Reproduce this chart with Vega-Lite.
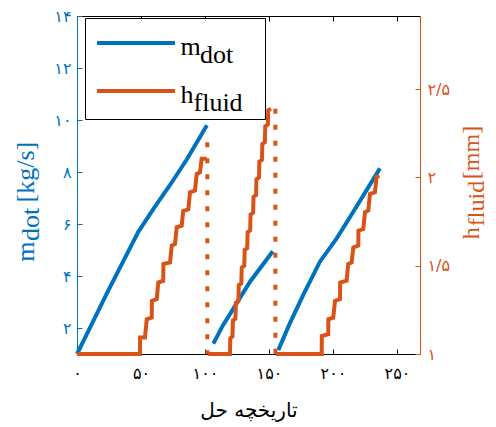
{
  "$schema": "https://vega.github.io/schema/vega-lite/v6.json",
  "width": 343,
  "height": 338,
  "autosize": {"type": "none"},
  "padding": {"left": 77, "top": 16, "right": 76, "bottom": 73},
  "background": "white",
  "config": {"view": {"stroke": null}, "axis": {"grid": false}},
  "datasets": {
    "mdot": [
      {"seg": 1, "x": 0, "v": 1.0}, {"seg": 1, "x": 12, "v": 2.2}, {"seg": 1, "x": 24, "v": 3.4}, {"seg": 1, "x": 36, "v": 4.55}, {"seg": 1, "x": 47.9, "v": 5.7}, {"seg": 1, "x": 60, "v": 6.6}, {"seg": 1, "x": 72.7, "v": 7.5}, {"seg": 1, "x": 86, "v": 8.5}, {"seg": 1, "x": 101.5, "v": 9.8},
      {"seg": 2, "x": 106.5, "v": 1.4}, {"seg": 2, "x": 114, "v": 2.1}, {"seg": 2, "x": 123.5, "v": 2.85}, {"seg": 2, "x": 135.2, "v": 3.78}, {"seg": 2, "x": 153, "v": 4.95},
      {"seg": 3, "x": 157.3, "v": 1.15}, {"seg": 3, "x": 166, "v": 2.15}, {"seg": 3, "x": 176.8, "v": 3.27}, {"seg": 3, "x": 189.8, "v": 4.55}, {"seg": 3, "x": 202.9, "v": 5.45}, {"seg": 3, "x": 215.9, "v": 6.47}, {"seg": 3, "x": 236.7, "v": 8.14}
    ],
    "hf": [
      {"seg": 1, "x": 0, "v": 1.0}, {"seg": 1, "x": 49.2, "v": 1.0}, {"seg": 1, "x": 49.3, "v": 1.093}, {"seg": 1, "x": 53.1, "v": 1.093}, {"seg": 1, "x": 54.5, "v": 1.197}, {"seg": 1, "x": 58.4, "v": 1.206}, {"seg": 1, "x": 58.5, "v": 1.301}, {"seg": 1, "x": 62.3, "v": 1.311}, {"seg": 1, "x": 63.5, "v": 1.405}, {"seg": 1, "x": 67.4, "v": 1.415}, {"seg": 1, "x": 67.5, "v": 1.51}, {"seg": 1, "x": 72.7, "v": 1.519}, {"seg": 1, "x": 74, "v": 1.614}, {"seg": 1, "x": 76.6, "v": 1.623}, {"seg": 1, "x": 77.9, "v": 1.718}, {"seg": 1, "x": 81.8, "v": 1.727}, {"seg": 1, "x": 83, "v": 1.81}, {"seg": 1, "x": 87, "v": 1.82}, {"seg": 1, "x": 88.3, "v": 1.916}, {"seg": 1, "x": 92.2, "v": 1.926}, {"seg": 1, "x": 93.5, "v": 2.02}, {"seg": 1, "x": 96.1, "v": 2.03}, {"seg": 1, "x": 97.4, "v": 2.106}, {"seg": 1, "x": 101.3, "v": 2.106},
      {"seg": 2, "x": 102.6, "v": 1.0}, {"seg": 2, "x": 119.5, "v": 1.0}, {"seg": 2, "x": 119.8, "v": 1.09}, {"seg": 2, "x": 121.5, "v": 1.1}, {"seg": 2, "x": 121.8, "v": 1.19}, {"seg": 2, "x": 123.8, "v": 1.2}, {"seg": 2, "x": 124.1, "v": 1.29}, {"seg": 2, "x": 126.1, "v": 1.3}, {"seg": 2, "x": 126.4, "v": 1.39}, {"seg": 2, "x": 128.4, "v": 1.4}, {"seg": 2, "x": 128.7, "v": 1.49}, {"seg": 2, "x": 130.7, "v": 1.5}, {"seg": 2, "x": 131.0, "v": 1.59}, {"seg": 2, "x": 133.0, "v": 1.6}, {"seg": 2, "x": 133.3, "v": 1.69}, {"seg": 2, "x": 135.3, "v": 1.7}, {"seg": 2, "x": 135.6, "v": 1.79}, {"seg": 2, "x": 137.6, "v": 1.8}, {"seg": 2, "x": 137.9, "v": 1.89}, {"seg": 2, "x": 139.9, "v": 1.9}, {"seg": 2, "x": 140.2, "v": 1.99}, {"seg": 2, "x": 142.2, "v": 2.0}, {"seg": 2, "x": 142.5, "v": 2.09}, {"seg": 2, "x": 144.5, "v": 2.1}, {"seg": 2, "x": 144.8, "v": 2.19}, {"seg": 2, "x": 146.8, "v": 2.2}, {"seg": 2, "x": 147.1, "v": 2.29}, {"seg": 2, "x": 149.1, "v": 2.3}, {"seg": 2, "x": 149.4, "v": 2.38}, {"seg": 2, "x": 151.5, "v": 2.39},
      {"seg": 3, "x": 155.5, "v": 1.0}, {"seg": 3, "x": 191.2, "v": 1.0}, {"seg": 3, "x": 191.3, "v": 1.102}, {"seg": 3, "x": 196.3, "v": 1.112}, {"seg": 3, "x": 196.4, "v": 1.197}, {"seg": 3, "x": 200.2, "v": 1.206}, {"seg": 3, "x": 201.6, "v": 1.301}, {"seg": 3, "x": 205.5, "v": 1.311}, {"seg": 3, "x": 205.6, "v": 1.405}, {"seg": 3, "x": 210.7, "v": 1.415}, {"seg": 3, "x": 211.9, "v": 1.51}, {"seg": 3, "x": 214.6, "v": 1.519}, {"seg": 3, "x": 215.9, "v": 1.604}, {"seg": 3, "x": 219.8, "v": 1.614}, {"seg": 3, "x": 219.9, "v": 1.699}, {"seg": 3, "x": 223.7, "v": 1.708}, {"seg": 3, "x": 225, "v": 1.803}, {"seg": 3, "x": 227.6, "v": 1.813}, {"seg": 3, "x": 228.9, "v": 1.907}, {"seg": 3, "x": 232.8, "v": 1.916}, {"seg": 3, "x": 234.1, "v": 2.002}, {"seg": 3, "x": 236.2, "v": 2.01}
    ],
    "dots": [
      {"x": 101.8, "top": 2.2, "bottom": 1.0},
      {"x": 155, "top": 2.39, "bottom": 1.0}
    ]
  },
  "layer": [
    {
      "data": {"name": "mdot"},
      "mark": {"type": "line", "strokeWidth": 4},
      "encoding": {
        "x": {"field": "x", "type": "quantitative", "scale": {"domain": [0, 268], "nice": false, "zero": false},
          "axis": {"orient": "bottom", "values": [0, 50, 100, 150, 200, 250], "labelExpr": "datum.value == 0 ? '۰' : datum.value == 50 ? '۵۰' : datum.value == 100 ? '۱۰۰' : datum.value == 150 ? '۱۵۰' : datum.value == 200 ? '۲۰۰' : '۲۵۰'", "labelFont": "DejaVu Sans", "labelFontSize": 16, "labelColor": "black", "labelFlush": false, "domainColor": "black", "tickColor": "black", "tickSize": -5, "labelPadding": 16, "title": "تاریخچه حل", "titleFont": "DejaVu Sans", "titleFontSize": 20, "titleFontWeight": "normal", "titleColor": "black", "titlePadding": 19}},
        "y": {"field": "v", "type": "quantitative", "scale": {"domain": [1, 14], "nice": false, "zero": false},
          "axis": {"orient": "left", "values": [2, 4, 6, 8, 10, 12, 14], "labelExpr": "datum.value == 2 ? '۲' : datum.value == 4 ? '۴' : datum.value == 6 ? '۶' : datum.value == 8 ? '۸' : datum.value == 10 ? '۱۰' : datum.value == 12 ? '۱۲' : '۱۴'", "labelFont": "DejaVu Sans", "labelFontSize": 16, "labelColor": "#0072BD", "domainColor": "#0072BD", "tickColor": "#0072BD", "tickSize": -5, "labelPadding": 11,
            "title": ["m\u00a0\u00a0\u00a0\u00a0\u00a0\u00a0[kg/s]\u00a0\u00a0\u00a0\u00a0\u00a0\u2060", "\u2060\u00a0\u00a0\u00a0dot\u00a0\u00a0\u00a0\u00a0\u00a0\u00a0\u00a0\u00a0\u00a0\u00a0\u00a0\u00a0\u00a0\u00a0\u00a0\u2060"],
            "titleFont": "Liberation Serif", "titleFontSize": 26, "titleFontWeight": "normal", "titleColor": "#0072BD", "titleBaseline": "bottom", "titleLineHeight": 5, "titlePadding": 10}},
        "detail": {"field": "seg"},
        "color": {"datum": "m_dot", "type": "nominal", "scale": {"domain": ["m_dot", "h_fluid"], "range": ["#0072BD", "#D95319"]},
          "legend": {"orient": "none", "legendX": 8, "legendY": 2, "title": null, "symbolType": "stroke", "symbolSize": 6084, "symbolStrokeWidth": 4, "symbolOffset": 7.5, "labelFont": "Liberation Serif", "labelFontSize": 26, "labelColor": "black", "labelOffset": 3.5, "labelLimit": 0, "labelBaseline": "line-top",
            "labelExpr": "datum.value == 'm_dot' ? ['m', '\u2060\u00a0\u00a0\u00a0dot'] : ['h', '\u2060\u00a0\u00a0fluid\u00a0\u00a0\u00a0\u2060']",
            "fillColor": "white", "strokeColor": "black", "padding": 2.5, "rowPadding": -7, "clipHeight": 45,
            "encode": {"labels": {"update": {"lineHeight": {"value": 8}}}}}}
      }
    },
    {
      "layer": [
        {
          "data": {"name": "hf"},
          "mark": {"type": "line", "strokeWidth": 4},
          "encoding": {
            "x": {"field": "x", "type": "quantitative", "scale": {"domain": [0, 268], "nice": false, "zero": false},
              "axis": {"orient": "top", "values": [0, 50, 100, 150, 200, 250], "labels": false, "title": null, "domainColor": "black", "tickColor": "black", "tickSize": -5}},
            "y": {"field": "v", "type": "quantitative", "scale": {"domain": [1, 2.915], "nice": false, "zero": false},
              "axis": {"orient": "right", "values": [1, 1.5, 2, 2.5], "labelExpr": "datum.value == 1 ? '۱' : datum.value == 1.5 ? '۱/۵' : datum.value == 2 ? '۲' : '۲/۵'", "labelFont": "DejaVu Sans", "labelFontSize": 16, "labelColor": "#D95319", "domainColor": "#D95319", "tickColor": "#D95319", "tickSize": -5, "labelPadding": 12,
                "title": ["\u2060\u00a0h\u00a0\u00a0\u00a0\u00a0\u00a0\u00a0\u00a0\u00a0[mm]", "\u2060\u00a0\u00a0\u00a0fluid\u00a0\u00a0\u00a0\u00a0\u00a0\u00a0\u00a0\u00a0\u00a0\u2060"],
                "titleFont": "Liberation Serif", "titleFontSize": 24, "titleFontWeight": "normal", "titleColor": "#D95319", "titleAngle": -90, "titleBaseline": "top", "titleLineHeight": 5, "titlePadding": 5}},
            "detail": {"field": "seg"},
            "color": {"datum": "h_fluid", "type": "nominal"}
          }
        },
        {
          "data": {"name": "dots"},
          "mark": {"type": "rule", "strokeWidth": 4, "strokeDash": [5, 11], "color": "#D95319"},
          "encoding": {
            "x": {"field": "x", "type": "quantitative", "scale": {"domain": [0, 268], "nice": false, "zero": false},
              "axis": {"orient": "top", "values": [0, 50, 100, 150, 200, 250], "labels": false, "title": null, "domainColor": "black", "tickColor": "black", "tickSize": -5}},
            "y": {"field": "top", "type": "quantitative", "scale": {"domain": [1, 2.915], "nice": false, "zero": false},
              "axis": {"orient": "right", "values": [1, 1.5, 2, 2.5], "labelExpr": "datum.value == 1 ? '۱' : datum.value == 1.5 ? '۱/۵' : datum.value == 2 ? '۲' : '۲/۵'", "labelFont": "DejaVu Sans", "labelFontSize": 16, "labelColor": "#D95319", "domainColor": "#D95319", "tickColor": "#D95319", "tickSize": -5, "labelPadding": 12,
                "title": ["\u2060\u00a0h\u00a0\u00a0\u00a0\u00a0\u00a0\u00a0\u00a0\u00a0[mm]", "\u2060\u00a0\u00a0\u00a0fluid\u00a0\u00a0\u00a0\u00a0\u00a0\u00a0\u00a0\u00a0\u00a0\u2060"],
                "titleFont": "Liberation Serif", "titleFontSize": 24, "titleFontWeight": "normal", "titleColor": "#D95319", "titleAngle": -90, "titleBaseline": "top", "titleLineHeight": 5, "titlePadding": 5}},
            "y2": {"field": "bottom"}
          }
        }
      ]
    }
  ],
  "resolve": {"scale": {"y": "independent"}, "axis": {"x": "independent"}}
}
